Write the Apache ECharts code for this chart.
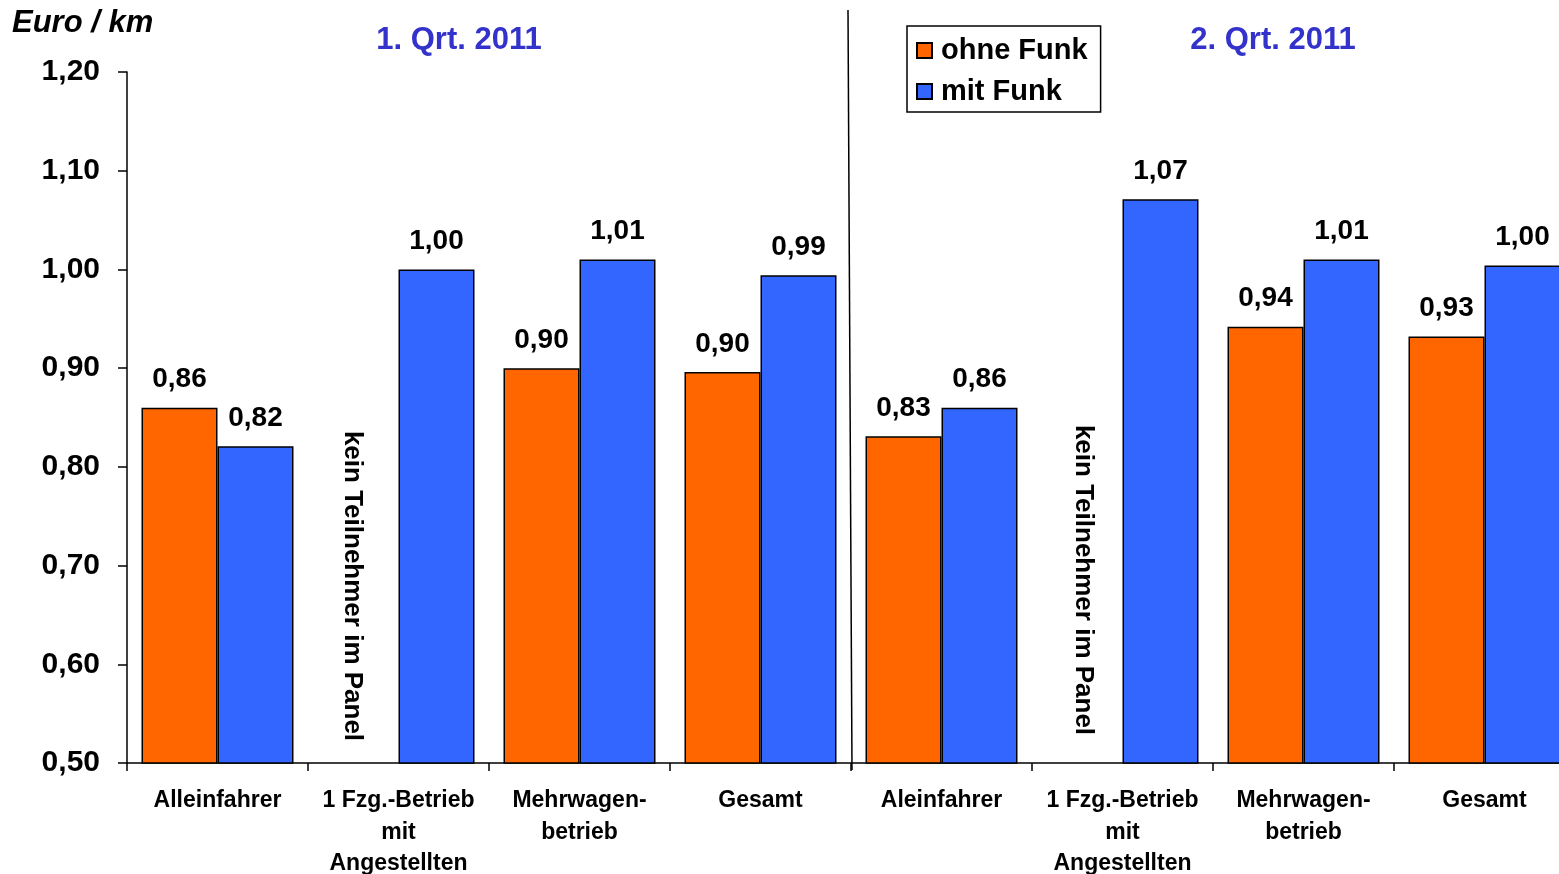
<!DOCTYPE html>
<html><head><meta charset="utf-8">
<script src="https://cdn.jsdelivr.net/npm/echarts@6/dist/echarts.min.js"></script>
<style>html,body{margin:0;padding:0;background:#fff}#c{width:1559px;height:874px}</style>
</head><body><div id="c"></div>
<script>
const categories = ['Alleinfahrer','1 Fzg.-Betrieb\nmit\nAngestellten','Mehrwagen-\nbetrieb','Gesamt','Aleinfahrer','1 Fzg.-Betrieb\nmit\nAngestellten','Mehrwagen-\nbetrieb','Gesamt'];
const ohneFunk = [0.86, null, 0.90, 0.896, 0.831, null, 0.942, 0.932];
const mitFunk = [0.821, 1.00, 1.01, 0.994, 0.86, 1.071, 1.01, 1.004];
const yTicks = {min:0.5, max:1.2, interval:0.1};
const quarterTitles = ['1. Qrt. 2011','2. Qrt. 2011'];
const noPanelText = 'kein Teilnehmer im Panel';
const unitLabel = 'Euro / km';

const FONT = '"Liberation Sans", Arial, sans-serif';
const fmt = v => v.toFixed(2).replace('.', ',');
const chart = echarts.init(document.getElementById('c'));
const labelCfg = {show:true, position:'top', distance:14, color:'#000', fontFamily:FONT, fontWeight:'bold', fontSize:28,
  formatter: p => p.value == null ? '' : fmt(p.value)};
chart.setOption({
  animation:false,
  grid:{left:127, right:-16, top:72, bottom:111, containLabel:false, outerBoundsMode:'none'},
  legend:{orient:'vertical', left:907, top:26, data:['ohne Funk','mit Funk'], icon:'rect', itemWidth:15, itemHeight:15,
    itemGap:12, padding:[10,13,6,9], borderColor:'#000', borderWidth:1.5, backgroundColor:'#fff',
    textStyle:{fontFamily:FONT, fontWeight:'bold', fontSize:29, color:'#000', padding:[0,0,0,4]}},
  xAxis:{type:'category', data:categories,
    axisLine:{lineStyle:{color:'#000', width:1.5}}, axisTick:{show:true, length:8, lineStyle:{color:'#000', width:1.5}},
    axisLabel:{interval:0, margin:22, fontFamily:FONT, fontWeight:'bold', fontSize:23, color:'#000', lineHeight:31.5}},
  yAxis:{type:'value', min:yTicks.min, max:yTicks.max, interval:yTicks.interval,
    axisLine:{show:true, lineStyle:{color:'#000', width:1.5}}, axisTick:{show:true, length:9, lineStyle:{color:'#000', width:1.5}},
    splitLine:{show:false},
    axisLabel:{margin:27, fontFamily:FONT, fontWeight:'bold', fontSize:30, color:'#000', formatter: v => fmt(v)}},
  series:[
    {name:'ohne Funk', type:'bar', data:ohneFunk, barWidth:76, barGap:'0%',
     itemStyle:{color:'#FF6600', borderColor:'#000', borderWidth:1.5}, label:labelCfg},
    {name:'mit Funk', type:'bar', data:mitFunk, barWidth:76,
     itemStyle:{color:'#3366FF', borderColor:'#000', borderWidth:1.5}, label:labelCfg}
  ],
  graphic:[
    {type:'text', left:12, top:8, style:{text:unitLabel, font:'italic bold 31px '+FONT, fill:'#000'}},
    {type:'text', x:459, y:40, style:{text:quarterTitles[0], font:'bold 31px '+FONT, fill:'#3333CC', align:'center', verticalAlign:'middle'}},
    {type:'text', x:1273, y:40, style:{text:quarterTitles[1], font:'bold 31px '+FONT, fill:'#3333CC', align:'center', verticalAlign:'middle'}},
    {type:'line', shape:{x1:848, y1:10, x2:852, y2:770}, style:{stroke:'#000', lineWidth:1.5}},
    {type:'text', x:352, y:586, rotation:-Math.PI/2, style:{text:noPanelText, font:'bold 26px '+FONT, fill:'#000', align:'center', verticalAlign:'middle'}},
    {type:'text', x:1083, y:580, rotation:-Math.PI/2, style:{text:noPanelText, font:'bold 26px '+FONT, fill:'#000', align:'center', verticalAlign:'middle'}}
  ]
});
</script></body></html>
